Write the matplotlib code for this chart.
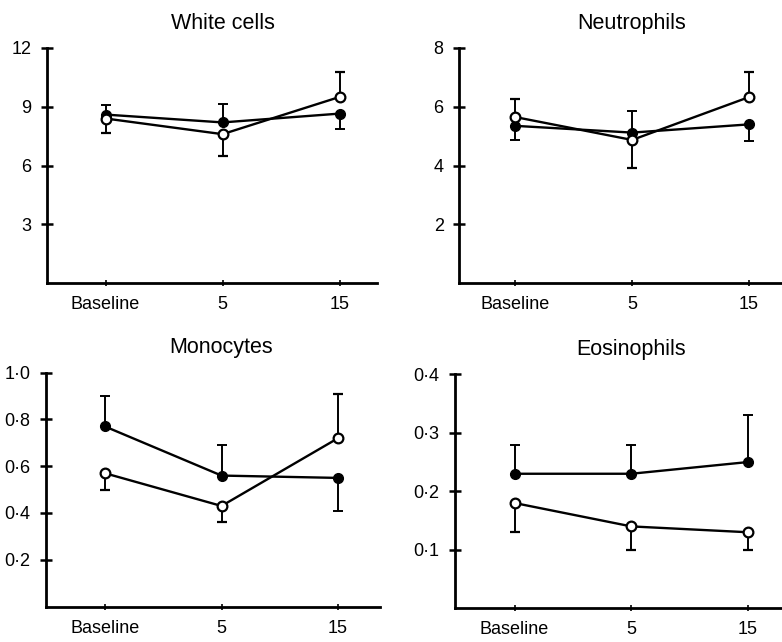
import matplotlib.pyplot as plt
import numpy as np

plt.rcParams['font.family'] = ['Liberation Sans', 'DejaVu Sans']

xlabels = ['Baseline', '5', '15']

# white cells
wc_filled = [8.6, 8.2, 8.65]
wc_filled_lo = [0.0, 0.0, 0.8]
wc_filled_hi = [0.5, 0.95, 0.0]
wc_open = [8.4, 7.6, 9.5]
wc_open_lo = [0.75, 1.1, 0.0]
wc_open_hi = [0.0, 0.0, 1.25]

# neutrophils
ne_filled = [5.35, 5.12, 5.4]
ne_filled_lo = [0.48, 0.0, 0.58]
ne_filled_hi = [0.0, 0.72, 0.0]
ne_open = [5.65, 4.87, 6.33]
ne_open_lo = [0.0, 0.97, 0.0]
ne_open_hi = [0.6, 0.0, 0.85]

# monocytes
mo_filled = [0.77, 0.56, 0.55]
mo_filled_lo = [0.0, 0.0, 0.14]
mo_filled_hi = [0.13, 0.13, 0.0]
mo_open = [0.57, 0.43, 0.72]
mo_open_lo = [0.07, 0.07, 0.0]
mo_open_hi = [0.0, 0.0, 0.19]

# eosinophils
eo_filled = [0.23, 0.23, 0.25]
eo_filled_lo = [0.0, 0.0, 0.0]
eo_filled_hi = [0.05, 0.05, 0.08]
eo_open = [0.18, 0.14, 0.13]
eo_open_lo = [0.05, 0.04, 0.03]
eo_open_hi = [0.0, 0.0, 0.0]

panels = [
    ('White cells', wc_filled, wc_filled_lo, wc_filled_hi, wc_open, wc_open_lo, wc_open_hi,
     12, [3, 6, 9, 12], ['3', '6', '9', '12']),
    ('Neutrophils', ne_filled, ne_filled_lo, ne_filled_hi, ne_open, ne_open_lo, ne_open_hi,
     8, [2, 4, 6, 8], ['2', '4', '6', '8']),
    ('Monocytes', mo_filled, mo_filled_lo, mo_filled_hi, mo_open, mo_open_lo, mo_open_hi,
     1.0, [0.2, 0.4, 0.6, 0.8, 1.0], ['0·2', '0·4', '0·6', '0·8', '1·0']),
    ('Eosinophils', eo_filled, eo_filled_lo, eo_filled_hi, eo_open, eo_open_lo, eo_open_hi,
     0.4, [0.1, 0.2, 0.3, 0.4], ['0·1', '0·2', '0·3', '0·4']),
]

W, H = 782, 642
# axes boxes in pixels: left, right, bottom, top ; and x limits
boxes = [
    (47, 377, 283, 48, -0.5, 2.32),
    (459, 790, 283, 48, -0.48, 2.35),
    (46, 380, 606.5, 372.7, -0.506, 2.36),
    (455, 790, 608.3, 374.3, -0.51, 2.36),
]

fig = plt.figure(figsize=(W / 100, H / 100), dpi=100)
x = np.arange(3)

for (title, f, flo, fhi, o, olo, ohi, ymax, yt, ytl), (l, r, b, t, x0, x1) in zip(panels, boxes):
    ax = fig.add_axes([l / W, 1 - b / H, (r - l) / W, (b - t) / H])
    ax.errorbar(x, f, yerr=[flo, fhi], color='black', lw=1.7, elinewidth=1.4,
                capsize=3.5, capthick=1.4, marker='o', ms=7, mfc='black', mec='black', zorder=3)
    ax.errorbar(x, o, yerr=[olo, ohi], color='black', lw=1.7, elinewidth=1.4,
                capsize=3.5, capthick=1.4, marker='o', ms=7, mfc='white', mec='black',
                mew=1.6, zorder=4)
    ax.set_xlim(x0, x1)
    ax.set_ylim(0, ymax)
    ax.set_yticks(yt)
    ax.set_yticklabels(ytl)
    ax.set_xticks(x)
    ax.set_xticklabels(xlabels)
    for s in ['top', 'right']:
        ax.spines[s].set_visible(False)
    for s in ['left', 'bottom']:
        ax.spines[s].set_linewidth(2)
    ax.tick_params(axis='y', direction='inout', length=8, width=1.8, labelsize=13, pad=7)
    ax.tick_params(axis='x', direction='inout', length=5, width=1.2, labelsize=13, pad=7)
    ax.set_facecolor('none')
    ax.set_title(title, fontsize=15.5, x=(1 - x0) / (x1 - x0), pad=14)

fig.savefig('out.png', dpi=100)
